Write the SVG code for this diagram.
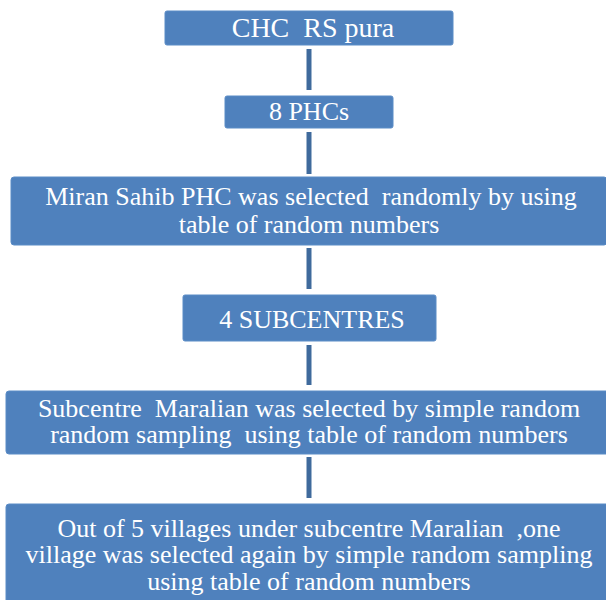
<svg xmlns="http://www.w3.org/2000/svg" width="606" height="600" viewBox="0 0 606 600">
<style>
.box{fill:#4F81BD;stroke:#5B8CC6;stroke-width:1}
.t{font-family:"Liberation Serif","Times New Roman",serif;font-size:26px;fill:#FFFFFF;text-anchor:middle;white-space:pre}
.c{stroke:#3F6A9C;stroke-width:5;fill:none}
</style>
<rect width="606" height="600" fill="#FFFFFF"/>
<g id="connectors">
<line class="c" x1="309" y1="49" x2="309" y2="90"/>
<line class="c" x1="309" y1="132" x2="309" y2="174"/>
<line class="c" x1="309" y1="248" x2="309" y2="289"/>
<line class="c" x1="309" y1="345" x2="309" y2="385"/>
<line class="c" x1="309" y1="457" x2="309" y2="498"/>
</g>
<g id="n1">
<rect class="box" x="165" y="11" width="288" height="34" rx="2"/>
<text class="t" x="313" y="37" style="font-size:28px" xml:space="preserve">CHC  RS pura</text>
</g>
<g id="n2">
<rect class="box" x="225" y="96" width="168" height="32" rx="2"/>
<text class="t" x="309" y="120">8 PHCs</text>
</g>
<g id="n3">
<rect class="box" x="11" y="177" width="596" height="68" rx="3"/>
<text class="t" x="311" y="205" xml:space="preserve">Miran Sahib PHC was selected  randomly by using</text>
<text class="t" x="309" y="233">table of random numbers</text>
</g>
<g id="n4">
<rect class="box" x="183" y="295" width="253" height="46" rx="2"/>
<text class="t" x="312" y="328">4 SUBCENTRES</text>
</g>
<g id="n5">
<rect class="box" x="6" y="391" width="604" height="63" rx="3"/>
<text class="t" x="309" y="417" xml:space="preserve">Subcentre  Maralian was selected by simple random</text>
<text class="t" x="309" y="443" xml:space="preserve">random sampling  using table of random numbers</text>
</g>
<g id="n6">
<rect class="box" x="6" y="504" width="604" height="100" rx="3"/>
<text class="t" x="309" y="537" xml:space="preserve">Out of 5 villages under subcentre Maralian  ,one</text>
<text class="t" x="309" y="563">village was selected again by simple random sampling</text>
<text class="t" x="309" y="590">using table of random numbers</text>
</g>
</svg>
